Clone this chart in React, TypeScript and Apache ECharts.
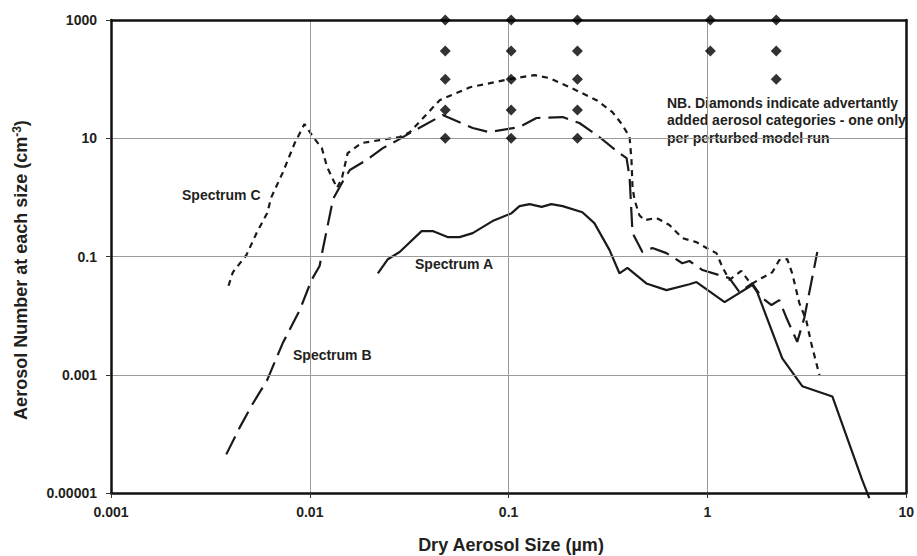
import React, { useEffect, useRef } from "react";
import * as echarts from "echarts";

// Tick labels (decades on log axes)
const xTickLabels = ["0.001", "0.01", "0.1", "1", "10"];
const yTickLabels = ["0.00001", "0.001", "0.1", "10", "1000"];

// Spectrum A (solid): [size µm, number cm^-3]
const spectrumA: [number, number][] = [
  [0.022, 0.052], [0.0247, 0.09], [0.0283, 0.119], [0.0365, 0.269], [0.0415, 0.269],
  [0.0493, 0.213], [0.0567, 0.213], [0.066, 0.249], [0.074, 0.314], [0.083, 0.397],
  [0.093, 0.464], [0.1035, 0.54], [0.1135, 0.71], [0.1275, 0.77], [0.1466, 0.69],
  [0.164, 0.77], [0.187, 0.71], [0.235, 0.56], [0.27, 0.367], [0.322, 0.128],
  [0.361, 0.052], [0.396, 0.064], [0.493, 0.035], [0.622, 0.027], [0.812, 0.034],
  [0.881, 0.037], [1.22, 0.0169], [1.68, 0.033], [1.78, 0.025], [2.38, 0.0019],
  [3.0, 0.00064], [4.25, 0.00043], [6.01, 0.0000165], [6.52, 0.0000082],
];

// Spectrum B (long dashes)
const spectrumB: [number, number][] = [
  [0.0038, 0.000045], [0.00445, 0.00013], [0.00518, 0.00033], [0.0061, 0.00081],
  [0.0073, 0.0034], [0.0089, 0.0124], [0.0102, 0.04], [0.0112, 0.069], [0.0116, 0.128],
  [0.0131, 0.94], [0.0147, 1.89], [0.0159, 2.9], [0.0193, 4.3], [0.0233, 6.8],
  [0.0277, 9.3], [0.0318, 12.2], [0.0466, 24.7], [0.066, 14.9], [0.08, 12.7],
  [0.1135, 15.5], [0.138, 22], [0.187, 22.8], [0.227, 18.1], [0.286, 10.5],
  [0.361, 5.6], [0.392, 4.6], [0.406, 2.2], [0.42, 0.25], [0.471, 0.119],
  [0.529, 0.139], [0.622, 0.114], [0.748, 0.077], [0.812, 0.084], [0.944, 0.059],
  [1.29, 0.043], [1.45, 0.025], [1.68, 0.035], [1.89, 0.0198], [2.1, 0.0151],
  [2.3, 0.0183], [2.49, 0.0094], [2.83, 0.0036], [3.07, 0.0091], [3.57, 0.119],
];

// Spectrum C (short dashes)
const spectrumC: [number, number][] = [
  [0.0039, 0.032], [0.0041, 0.054], [0.0048, 0.106], [0.0054, 0.25], [0.0061, 0.54],
  [0.0064, 1.0], [0.0073, 2.6], [0.0084, 8.3], [0.0094, 17.4], [0.0104, 10.5],
  [0.0115, 6.8], [0.0122, 3.3], [0.0137, 1.44], [0.0145, 2.1], [0.0155, 5.6],
  [0.0182, 8.3], [0.0225, 9.3], [0.0283, 10.5], [0.0319, 12.7], [0.045, 44],
  [0.064, 73], [0.101, 100], [0.135, 117], [0.161, 104], [0.203, 73], [0.277, 44],
  [0.333, 27.7], [0.374, 16.7], [0.406, 10.5], [0.415, 4.3], [0.42, 1.49],
  [0.43, 0.9], [0.455, 0.5], [0.482, 0.41], [0.554, 0.45], [0.644, 0.34],
  [0.748, 0.205], [0.88, 0.175], [0.99, 0.139], [1.11, 0.114], [1.19, 0.066],
  [1.29, 0.04], [1.48, 0.057], [1.66, 0.034], [1.87, 0.043], [2.12, 0.054],
  [2.3, 0.087], [2.52, 0.09], [2.67, 0.052], [2.9, 0.0163], [3.14, 0.0084],
  [3.33, 0.0034], [3.66, 0.00098],
];

// Diamonds: added aerosol categories
const diamonds: [number, number][] = [
  [0.048, 1000], [0.048, 300], [0.048, 100], [0.048, 30], [0.048, 10],
  [0.103, 1000], [0.103, 300], [0.103, 100], [0.103, 30], [0.103, 10],
  [0.222, 1000], [0.222, 300], [0.222, 100], [0.222, 30], [0.222, 10],
  [1.035, 1000], [1.035, 300],
  [2.22, 1000], [2.22, 300], [2.22, 100],
];

const FONT = '"Liberation Sans", Arial, Helvetica, sans-serif';
const TXT = "#231f20";
const LINE = "#1a1a1a";
const FRAME = "#111";

const toLog = (pts: [number, number][]) =>
  pts.map(([x, y]) => [Math.log10(x), Math.log10(y)]);

const frameAxis = (extra: any) => ({
  type: "value",
  axisLine: { show: true, onZero: false, lineStyle: { color: FRAME, width: 2.5 } },
  axisTick: { show: false },
  axisLabel: { show: false },
  splitLine: { show: false },
  z: 10,
  ...extra,
});

export default function App() {
  const ref = useRef<HTMLDivElement>(null);
  useEffect(() => {
    if (!ref.current) return;
    const chart = echarts.init(ref.current, undefined, { renderer: "svg" });
    const option: any = {
      animation: false,
      backgroundColor: "#fff",
      grid: { left: 111, right: 10, top: 20, bottom: 63 },
      xAxis: [
        {
          type: "value",
          min: -3,
          max: 1,
          interval: 1,
          position: "bottom",
          z: 10,
          axisLine: { show: true, onZero: false, lineStyle: { color: FRAME, width: 2.5 } },
          axisTick: { show: true, length: 5, lineStyle: { color: "#333", width: 1 } },
          splitLine: {
            show: true,
            showMinLine: false,
            showMaxLine: false,
            lineStyle: { color: "#9a9a9a", width: 1 },
          },
          axisLabel: {
            margin: 12,
            fontFamily: FONT,
            fontWeight: "bold",
            fontSize: 14,
            color: TXT,
            formatter: (v: number) => xTickLabels[Math.round(v) + 3] ?? "",
          },
        },
        frameAxis({ min: -3, max: 1, position: "top" }),
      ],
      yAxis: [
        {
          type: "value",
          min: -5,
          max: 3,
          interval: 2,
          position: "left",
          z: 10,
          axisLine: { show: true, onZero: false, lineStyle: { color: FRAME, width: 2.5 } },
          axisTick: { show: true, length: 5, lineStyle: { color: "#333", width: 1 } },
          splitLine: {
            show: true,
            showMinLine: false,
            showMaxLine: false,
            lineStyle: { color: "#9a9a9a", width: 1 },
          },
          axisLabel: {
            margin: 14,
            fontFamily: FONT,
            fontWeight: "bold",
            fontSize: 14,
            color: TXT,
            formatter: (v: number) => yTickLabels[Math.round((v + 5) / 2)] ?? "",
          },
        },
        frameAxis({ min: -5, max: 3, position: "right" }),
      ],
      series: [
        {
          name: "Spectrum A",
          type: "line",
          data: toLog(spectrumA),
          showSymbol: false,
          clip: false,
          lineStyle: { color: LINE, width: 2.2, type: "solid" },
        },
        {
          name: "Spectrum B",
          type: "line",
          data: toLog(spectrumB),
          showSymbol: false,
          clip: false,
          lineStyle: { color: LINE, width: 2.2, type: [20, 8] },
        },
        {
          name: "Spectrum C",
          type: "line",
          data: toLog(spectrumC),
          showSymbol: false,
          clip: false,
          lineStyle: { color: LINE, width: 2.2, type: [6, 5] },
        },
        {
          name: "Added categories",
          type: "scatter",
          data: toLog(diamonds),
          symbol: "diamond",
          symbolSize: [11, 11],
          clip: false,
          itemStyle: { color: "#000" },
          z: 12,
        },
      ],
      graphic: [
        {
          type: "text",
          x: 21,
          y: 270,
          rotation: Math.PI / 2,
          style: {
            text: "{a|Aerosol Number at each size (cm}{s|-3}{a|)}",
            align: "center",
            verticalAlign: "middle",
            fill: TXT,
            rich: {
              a: { fontFamily: FONT, fontWeight: "bold", fontSize: 18, fill: TXT, lineHeight: 20 },
              s: {
                fontFamily: FONT,
                fontWeight: "bold",
                fontSize: 12,
                fill: TXT,
                lineHeight: 20,
                verticalAlign: "top",
                padding: [0, 0, 8, 0],
              },
            },
          },
        },
        {
          type: "text",
          x: 511,
          y: 545,
          style: {
            text: "Dry Aerosol Size (µm)",
            align: "center",
            verticalAlign: "middle",
            fontFamily: FONT,
            fontWeight: "bold",
            fontSize: 18,
            fill: TXT,
          },
        },
        {
          type: "text",
          x: 182,
          y: 195,
          style: {
            text: "Spectrum C",
            align: "left",
            verticalAlign: "middle",
            fontFamily: FONT,
            fontWeight: "bold",
            fontSize: 14,
            fill: TXT,
          },
        },
        {
          type: "text",
          x: 293,
          y: 355,
          style: {
            text: "Spectrum B",
            align: "left",
            verticalAlign: "middle",
            fontFamily: FONT,
            fontWeight: "bold",
            fontSize: 14,
            fill: TXT,
          },
        },
        {
          type: "text",
          x: 415,
          y: 264,
          style: {
            text: "Spectrum A",
            align: "left",
            verticalAlign: "middle",
            fontFamily: FONT,
            fontWeight: "bold",
            fontSize: 14,
            fill: TXT,
          },
        },
        {
          type: "text",
          x: 667,
          y: 94,
          style: {
            text:
              "NB. Diamonds indicate advertantly\nadded aerosol categories - one only\nper perturbed model run",
            align: "left",
            verticalAlign: "top",
            fontFamily: FONT,
            fontWeight: "bold",
            fontSize: 14,
            lineHeight: 17.5,
            fill: TXT,
          },
        },
      ],
    };
    chart.setOption(option);
    return () => chart.dispose();
  }, []);
  return (
    <div
      ref={ref}
      style={{ position: "fixed", left: 0, top: 0, width: 917, height: 556, background: "#fff" }}
    />
  );
}
